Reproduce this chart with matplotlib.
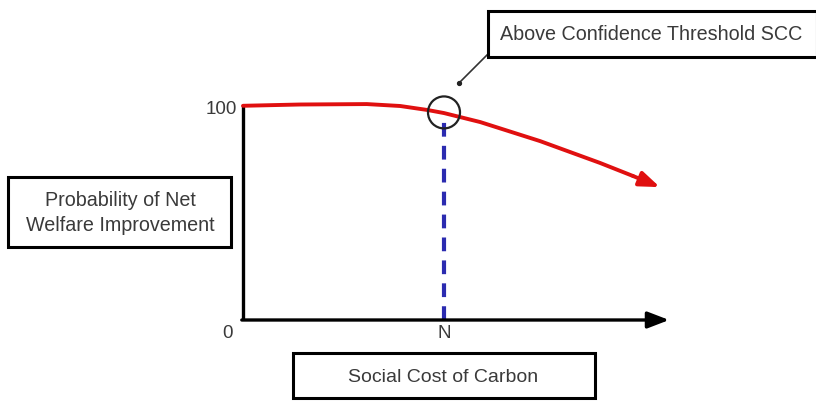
import matplotlib
matplotlib.use("Agg")
import matplotlib.pyplot as plt
from matplotlib.patches import Rectangle, Ellipse

plt.rcParams['font.family'] = ['Liberation Sans', 'DejaVu Sans']

# data
curve_x = [0, 1.42, 3.08, 3.91, 4.60, 5.0, 5.90, 7.39, 8.88, 9.70, 10.37]
curve_y = [100.1, 100.7, 100.9, 100.0, 98.1, 96.7, 92.5, 83.6, 73.4, 67.3, 62.1]
n_value = 5.0
y_ticks = [0, 100]
y_tick_labels = ["0", "100"]
x_tick_label = "N"
x_axis_end = 10.6
y_axis_top = 100.5
threshold_y = 97.0
box_title = "Above Confidence Threshold SCC"
ylabel_text = "Probability of Net\nWelfare Improvement"
xlabel_text = "Social Cost of Carbon"

W, H = 816, 401
fig = plt.figure(figsize=(W / 100, H / 100), dpi=100)
ax = fig.add_axes([0, 0, 1, 1])
px_x = 40.2
px_y = 2.14
ox, oy = 243, 320
ax.set_xlim(-ox / px_x, (W - ox) / px_x)
ax.set_ylim((oy - H) / px_y, oy / px_y)
ax.axis('off')

txt_col = '#3a3a3a'

# y axis
ax.plot([0, 0], [0, y_axis_top], color='black', lw=2.4, solid_capstyle='butt')
# x axis with arrow
ax.annotate('', xy=(x_axis_end, 0), xytext=(-0.03, 0),
            arrowprops=dict(arrowstyle='-|>,head_length=1.3,head_width=0.5',
                            color='black', lw=2.4, shrinkA=0, shrinkB=0))

# dashed vertical line at N
ax.plot([n_value, n_value], [0, threshold_y - 2.5], color='#2b2bb0', lw=3,
        dashes=(3.3, 2.2))

# red curve
ax.plot(curve_x[:-1], curve_y[:-1], color='#e01010', lw=2.8,
        solid_capstyle='round', solid_joinstyle='round')
ax.annotate('', xy=(curve_x[-1], curve_y[-1]), xytext=(curve_x[-2], curve_y[-2]),
            arrowprops=dict(arrowstyle='-|>,head_length=1.2,head_width=0.45',
                            color='#e01010', lw=2.8, shrinkA=0, shrinkB=0))

# circle at threshold
ax.add_patch(Ellipse((n_value, threshold_y), width=32 / px_x, height=32 / px_y,
                     fill=False, edgecolor='#222222', lw=1.6, zorder=5))

# tick labels
ax.text(-22 / px_x, y_ticks[1] - 1.5, y_tick_labels[1], ha='center', va='center',
        fontsize=13.5, color=txt_col)
ax.text(-16 / px_x, y_ticks[0] - 14 / px_y, y_tick_labels[0], ha='center',
        va='center', fontsize=13.5, color=txt_col)
ax.text(n_value, -14 / px_y, x_tick_label, ha='center', va='center',
        fontsize=13.5, color=txt_col)

def fig_box(x0, y0, x1, y1):
    r = Rectangle((x0 / W, 1 - y1 / H), (x1 - x0) / W, (y1 - y0) / H,
                  transform=fig.transFigure, fill=True, facecolor='white',
                  edgecolor='black', lw=2.2, zorder=6)
    fig.add_artist(r)

# top annotation box
fig_box(488, 11, 817, 57)
fig.text(651 / W, 1 - 34 / H, box_title, ha='center', va='center',
         fontsize=14.2, color=txt_col, zorder=7)
# leader line
fig.add_artist(plt.Line2D([488 / W, 460 / W], [1 - 54 / H, 1 - 82 / H],
                          color='#333333', lw=1.2, transform=fig.transFigure))
fig.add_artist(plt.Line2D([459 / W], [1 - 83 / H], marker='o', ms=2.8,
                          color='#222222', transform=fig.transFigure))

# y label box
fig_box(8, 177, 231, 247)
fig.text(120 / W, 1 - 213 / H, ylabel_text, ha='center', va='center',
         fontsize=14.2, color=txt_col, linespacing=1.38, zorder=7)

# x label box
fig_box(293, 353, 595, 398)
fig.text(443 / W, 1 - 377 / H, xlabel_text, ha='center', va='center',
         fontsize=14, color=txt_col, zorder=7)

fig.savefig('out.png', dpi=100, facecolor='white')
